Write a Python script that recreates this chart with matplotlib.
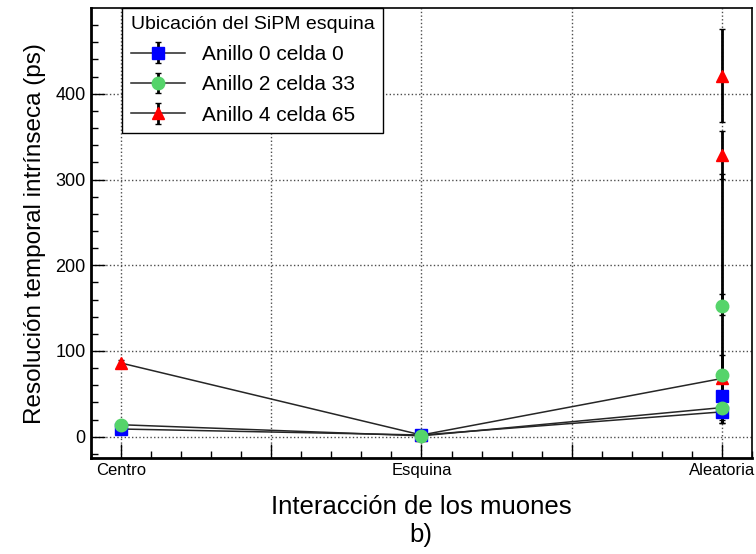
import numpy as np
import matplotlib
matplotlib.use("Agg")
import matplotlib.pyplot as plt

plt.rcParams['font.family'] = ['Liberation Sans', 'DejaVu Sans']

# categories on the x axis
categories = ['Centro', 'Esquina', 'Aleatoria']
cat_x = [1, 2, 3]

# main series: one value per category
labels = ['Anillo 0 celda 0', 'Anillo 2 celda 33', 'Anillo 4 celda 65']
blue_y = [9, 2, 29]
blue_err = [3, 1, 13]
green_y = [14, 1, 34]
green_err = [3, 1, 14]
red_y = [86, 2, 68]
red_err = [4, 1, 27]

# extra runs at "Aleatoria" (errors as [lower], [upper])
blue_extra_y = [47]
blue_extra_err = [[31], [31]]
green_extra_y = [153, 72]
green_extra_err = [[11, 23], [154, 95]]
red_extra_y = [421, 329]
red_extra_err = [[54, 28], [54, 28]]

fig = plt.figure(figsize=(7.56, 5.54), dpi=100)
ax = fig.add_axes([0.120, 0.173, 0.875, 0.8125])

styles = {
    'red': dict(marker='^', mfc='red', mec='red', ms=9),
    'blue': dict(marker='s', mfc='blue', mec='blue', ms=8),
    'green': dict(marker='o', mfc='#55d46a', mec='#55d46a', ms=9),
}
common = dict(color='0.15', lw=1.1, ecolor='black', elinewidth=2.0, capsize=2)

handles = {}
# draw order: red, blue, green (green ends on top)
for key, ys, es, ys_extra, es_extra in [
        ('red', red_y, red_err, red_extra_y, red_extra_err),
        ('blue', blue_y, blue_err, blue_extra_y, blue_extra_err),
        ('green', green_y, green_err, green_extra_y, green_extra_err)]:
    h = ax.errorbar(cat_x, ys, yerr=es, ls='-', zorder=3, **styles[key], **common)
    handles[key] = h
    ax.errorbar([cat_x[2]] * len(ys_extra), ys_extra, yerr=es_extra, ls='none',
                zorder=3, **styles[key], **common)

ax.set_xlim(0.9, 3.1)
ax.set_ylim(-25, 500)

ax.set_xticks([1, 1.5, 2, 2.5, 3])
ax.set_xticklabels(['Centro', '', 'Esquina', '', 'Aleatoria'], fontsize=12)
ax.set_xticks(np.arange(0.9, 3.1001, 0.1), minor=True)
ax.set_yticks([0, 100, 200, 300, 400])
ax.set_yticks(np.arange(-20, 500, 20), minor=True)
ax.tick_params(axis='y', labelsize=13)
ax.tick_params(which='both', direction='in', top=False, right=False)
ax.tick_params(which='major', length=10, width=1)
ax.tick_params(which='minor', length=5, width=1)

ax.grid(True, which='major', ls=':', color='0.3', lw=1.0)

for s in ['left', 'bottom']:
    ax.spines[s].set_linewidth(2)
for s in ['top', 'right']:
    ax.spines[s].set_linewidth(1.2)

ax.set_ylabel('Resolución temporal intrínseca (ps)', fontsize=17.5, labelpad=7)
ax.set_xlabel('Interacción de los muones', fontsize=18.5, labelpad=12)
fig.text(0.557, 0.022, 'b)', fontsize=18.5, ha='center')

leg = ax.legend([handles['blue'], handles['green'], handles['red']], labels,
                title='Ubicación del SiPM esquina', loc='upper left',
                bbox_to_anchor=(0.048, 1.0), fontsize=15, title_fontsize=14,
                frameon=True, fancybox=False, edgecolor='black', framealpha=1,
                borderaxespad=0, handlelength=2.6, labelspacing=0.55)
leg._legend_box.align = 'left'
leg.get_frame().set_linewidth(1.0)

fig.savefig('out.png', dpi=100)
